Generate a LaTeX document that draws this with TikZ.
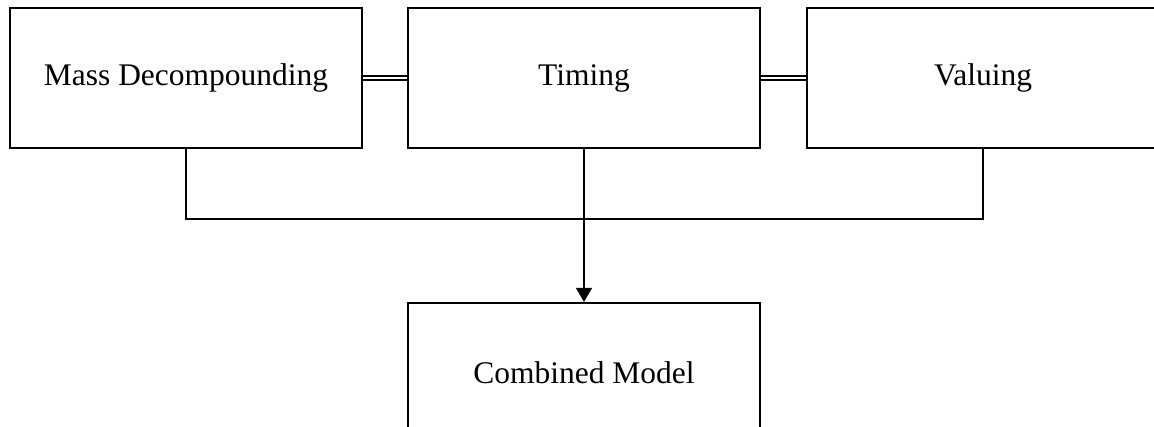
\documentclass[tikz,border=0pt]{standalone}
\usepackage{fontspec}
\setmainfont{Liberation Serif}
\usetikzlibrary{arrows.meta}

\begin{document}
\begin{tikzpicture}[x=0.75pt,y=-0.75pt,
  stage/.style={draw, rectangle, line width=1.5pt, inner sep=0pt,
    minimum width=264pt, minimum height=105pt,
    font=\fontsize{23.6}{28}\selectfont},
  link/.style={double, line width=1.2pt, double distance=1.5pt}]
  \useasboundingbox (0,0) rectangle (1154,427);
  \node[stage] (mass) at (186,78) {Mass Decompounding};
  \node[stage] (timing) at (584,78) {Timing};
  \node[stage] (valuing) at (983,78) {Valuing};
  \node[stage] (combined) at (584,373) {Combined Model};
  \coordinate (join) at (584,219);
  % Draw the links between stages
  \draw[link] (mass) -- (timing);
  \draw[link] (timing) -- (valuing);
  % Draw the merge into the model
  \draw[line width=1.6pt] (mass.south) |- (join) -| (valuing.south);
  \draw[line width=2.2pt, -{Triangle[length=10.5pt,width=11.5pt]}] (timing.south) -- (combined.north);
\end{tikzpicture}
\end{document}
